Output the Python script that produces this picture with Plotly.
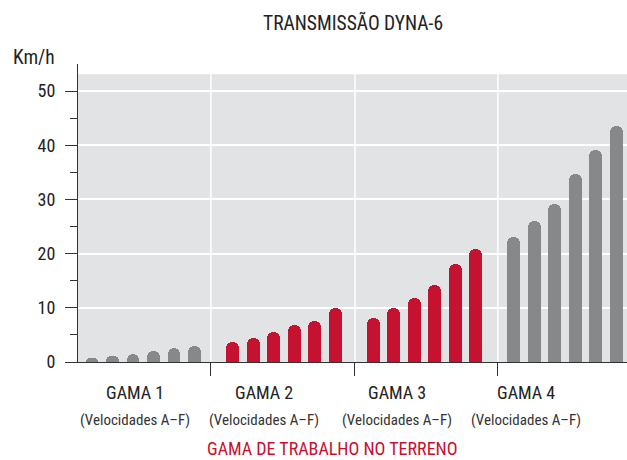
import plotly.graph_objects as go

groups = ["GAMA 1", "GAMA 2", "GAMA 3", "GAMA 4"]
sublabel = "(Velocidades A–F)"
speeds = ["A", "B", "C", "D", "E", "F"]
gama1 = [0.8, 1.1, 1.5, 2.1, 2.5, 2.9]
gama2 = [3.75, 4.5, 5.5, 6.8, 7.6, 10.0]
gama3 = [8.05, 10.0, 11.8, 14.2, 18.1, 20.8]
gama4 = [23.1, 26.1, 29.1, 34.7, 39.1, 43.5]
series = [gama1, gama2, gama3, gama4]
y_ticks = [0, 10, 20, 30, 40, 50]

GREY = "#87888a"
RED = "#c41230"
BG = "#e2e3e5"
FONT = "Liberation Sans Narrow, Roboto Condensed, DejaVu Sans Condensed, Arial Narrow, sans-serif"

colors = [GREY, RED, RED, GREY]
group_step = 6.86

fig = go.Figure()
for g, vals in enumerate(series):
    xs = [g * group_step + i for i in range(len(vals))]
    fig.add_trace(go.Bar(
        x=xs, y=vals, width=0.63,
        marker=dict(color=colors[g], cornerradius="50%", line=dict(width=0)),
        name=groups[g], hoverinfo="x+y",
    ))

seps = [5.8, 12.83, 19.8]
label_x = [2.1, 8.39, 14.88, 21.17]

shapes = [dict(type="rect", xref="paper", yref="y", x0=0, x1=1, y0=0, y1=53.1,
               fillcolor=BG, line=dict(width=0), layer="below")]
for s in seps:
    shapes.append(dict(type="line", xref="x", yref="y", x0=s, x1=s, y0=0, y1=53.1,
                       line=dict(color="white", width=1.5), layer="below"))

fig.add_annotation(text="TRANSMISSÃO DYNA-6", xref="paper", yref="paper", x=(353 - 78) / 549,
                   y=1 + (64 - 23) / 298, showarrow=False, font=dict(size=19.5, color="#222"),
                   xanchor="center", yanchor="middle")
fig.add_annotation(text="Km/h", xref="paper", yref="paper", x=(34 - 78) / 549,
                   y=1 + (64 - 57) / 298, showarrow=False, font=dict(size=19.5, color="#222"),
                   xanchor="center", yanchor="middle")
for g, lx in enumerate(label_x):
    fig.add_annotation(text=groups[g], xref="x", yref="paper", x=lx, y=-(392 - 362) / 298,
                       showarrow=False, font=dict(size=18, color="#222"),
                       xanchor="center", yanchor="middle")
    fig.add_annotation(text=sublabel, xref="x", yref="paper", x=lx, y=-(420 - 362) / 298,
                       showarrow=False, font=dict(size=15, color="#333"),
                       xanchor="center", yanchor="middle")
fig.add_annotation(text="GAMA DE TRABALHO NO TERRENO", xref="paper", yref="paper",
                   x=(332 - 78) / 549, y=-(448 - 362) / 298, showarrow=False,
                   font=dict(size=18, color="#c8102e"), xanchor="center", yanchor="middle")

fig.update_layout(
    width=627, height=460,
    margin=dict(l=78, r=0, t=64, b=98),
    paper_bgcolor="white", plot_bgcolor="white",
    showlegend=False, bargap=0,
    font=dict(family=FONT, color="#222"),
    shapes=shapes,
    xaxis=dict(range=[-0.683, 26.1], showgrid=False, zeroline=False,
               showline=True, linecolor="#333", linewidth=1.2,
               tickvals=seps, ticktext=["", "", ""], ticks="outside",
               ticklen=13, tickcolor="#333", tickwidth=1.2),
    yaxis=dict(range=[0, 55], showgrid=True, gridcolor="white", gridwidth=1.5,
               zeroline=False, showline=True, linecolor="#333", linewidth=1.2,
               tickvals=y_ticks, ticks="outside", ticklen=12, tickcolor="#333",
               tickwidth=1.2, tickfont=dict(size=18, color="#222"),
               ticklabelstandoff=6,
               minor=dict(tickvals=[5, 15, 25, 35, 45], ticks="outside", ticklen=7,
                          tickcolor="#333", tickwidth=1.2, showgrid=False)),
)

fig.write_html("out.html", config={"displayModeBar": False},
               post_script="document.body.style.margin='0';document.body.style.overflow='hidden';")
